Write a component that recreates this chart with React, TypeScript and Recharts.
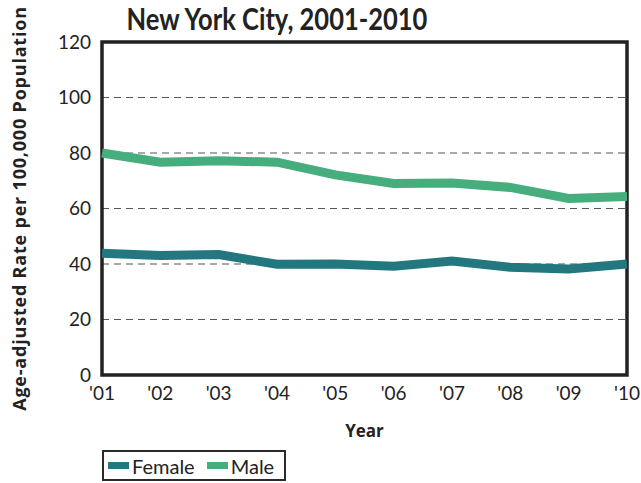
import React from 'react';
import { LineChart, Line, XAxis, YAxis, CartesianGrid, ReferenceArea, Label } from 'recharts';

const years = ["'01", "'02", "'03", "'04", "'05", "'06", "'07", "'08", "'09", "'10"];
const female = [43.9, 43.1, 43.4, 39.9, 40.0, 39.2, 41.1, 38.8, 38.2, 40.0];
const male = [80.0, 76.7, 77.2, 76.7, 72.1, 69.0, 69.2, 67.6, 63.6, 64.3];
const yTicks = [0, 20, 40, 60, 80, 100, 120];

const data = years.map((y, i) => ({ year: y, Female: female[i], Male: male[i] }));

const FONT = 'Lato, "Open Sans", sans-serif';
const FEMALE_COLOR = '#23777f';
const MALE_COLOR = '#46ae7d';

const LegendBox = () => (
  <div style={{
    position: 'absolute', left: 102, top: 450, border: '2.5px solid #2a2a2a', display: 'flex', alignItems: 'center', height: 31,
    width: 184, boxSizing: 'border-box', paddingLeft: 4, fontFamily: FONT, fontSize: 20, color: '#222'
  }}>
    <span style={{ display: 'inline-block', width: 21, height: 7, background: FEMALE_COLOR, marginRight: 3 }} />
    <span style={{ marginRight: 12 }}>Female</span>
    <span style={{ display: 'inline-block', width: 21, height: 7, background: MALE_COLOR, marginRight: 3 }} />
    <span>Male</span>
  </div>
);

export default function App() {
  return (
    <div style={{ position: 'absolute', left: 0, top: 0, width: 641, height: 483, background: '#fff' }}>
      <div style={{
        position: 'absolute', left: 0, width: 554, top: 0, textAlign: 'center', transform: 'scaleX(0.85)',
        transformOrigin: '277px 0', fontFamily: FONT, fontWeight: 700, fontSize: 30, color: '#222', lineHeight: 'normal'
      }}>New York City, 2001-2010</div>
      <LineChart width={641} height={483} data={data} margin={{ top: 42, right: 14, left: 0, bottom: 0 }}>
        <CartesianGrid horizontal vertical={false} stroke="#555" strokeDasharray="7 5" strokeWidth={1.2} />
        <XAxis dataKey="year" height={108} axisLine={false} tickLine={false} tickSize={0} tickMargin={12}
          interval={0} tick={{ fontFamily: FONT, fontSize: 19, fill: '#222' }}>
          <Label value="Year" position="insideTop" offset={50} style={{ fontFamily: '"Open Sans", sans-serif', fontWeight: 700, fontSize: 17, fill: '#222' }} />
        </XAxis>
        <YAxis width={102} domain={[0, 120]} ticks={yTicks} axisLine={false} tickLine={false} tickSize={0}
          tickMargin={11} tick={{ fontFamily: FONT, fontSize: 19, fill: '#222' }}>
          <Label value="Age-adjusted Rate per 100,000 Population" angle={-90} position="insideLeft" offset={20}
            style={{ textAnchor: 'middle', fontFamily: '"Open Sans", sans-serif', fontWeight: 700, fontSize: 18, letterSpacing: 0.8, fill: '#222' }} />
        </YAxis>
        <ReferenceArea x1="'01" x2="'10" y1={0} y2={120} fill="none" stroke="#222" strokeWidth={3.5} ifOverflow="visible" />
        <Line type="linear" dataKey="Female" stroke={FEMALE_COLOR} strokeWidth={9} dot={false} isAnimationActive={false} />
        <Line type="linear" dataKey="Male" stroke={MALE_COLOR} strokeWidth={9} dot={false} isAnimationActive={false} />
      </LineChart>
      <LegendBox />
    </div>
  );
}
